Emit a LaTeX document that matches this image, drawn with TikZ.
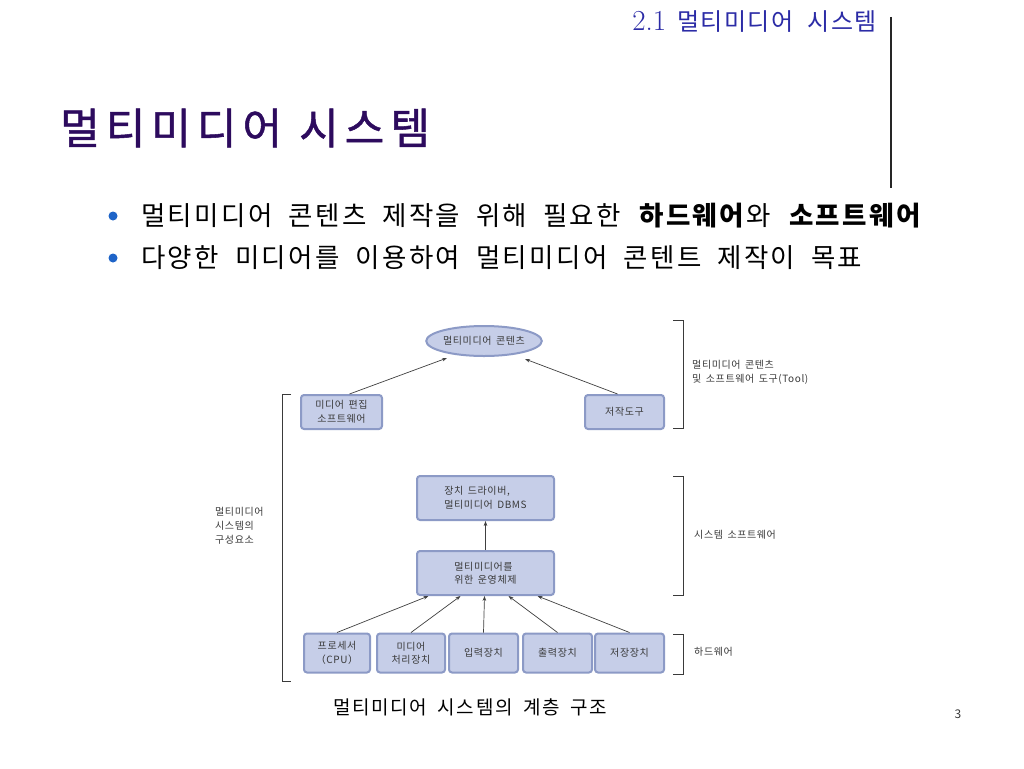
\documentclass[tikz,border=0pt]{standalone}
\usepackage{fontspec}
\usetikzlibrary{arrows.meta,shapes.geometric}
\newfontfamily\kr{Noto Sans CJK KR}
\newfontfamily\krs{Noto Sans CJK KR}[LetterSpace=6]
\newfontfamily\krb{Noto Sans CJK KR}[LetterSpace=9]
\newfontfamily\krt{Noto Sans CJK KR}[LetterSpace=14]
\definecolor{hdrblue}{HTML}{2B2BA6}
\definecolor{ttlpurple}{HTML}{2D0B5E}
\definecolor{bulblue}{HTML}{1E64C8}
\definecolor{boxfill}{HTML}{C6CEE8}
\definecolor{boxline}{HTML}{8C9AC6}
\definecolor{txtgray}{HTML}{3A3A3A}
\definecolor{arrgray}{HTML}{404040}
\begin{document}
\begin{tikzpicture}[x=1pt,y=-1pt,
  box/.style={draw=boxline, fill=boxfill, line width=2pt, rounded corners=3pt, text=txtgray,
    font={\krs\fontsize{10}{13.5}\selectfont\spaceskip=0.45em\relax}, inner sep=0pt, align=center},
  oval/.style={ellipse, draw=boxline, fill=boxfill, line width=2pt, text=txtgray,
    font={\krs\fontsize{10}{13.5}\selectfont\spaceskip=0.45em\relax}, inner sep=0pt},
  lbl/.style={text=txtgray, font={\krs\fontsize{10}{14}\selectfont\spaceskip=0.45em\relax}, inner sep=0pt, align=left},
  conn/.style={draw=arrgray, line width=0.7pt, -{Stealth[length=5pt,width=3.6pt]}},
  brk/.style={draw=txtgray, line width=0.9pt},
  bultxt/.style={anchor=west, inner sep=0pt, text=black, font={\krb\fontsize{26.5}{30}\selectfont\spaceskip=0.6em\relax}}
]
\useasboundingbox (0,0) rectangle (1024,768);
\fill[white] (0,0) rectangle (1024,768);

% header
\node[anchor=east, inner sep=0pt, text=hdrblue] (hdr) at (877,22) {{\fontsize{29}{31}\selectfont 2.1}\hspace{11pt}{\krs\fontsize{24}{26}\selectfont\spaceskip=0.6em\relax 멀티미디어 시스템}};
\draw[line width=1.2pt, black!85] (891,17) -- (891,188);

% title
\node[anchor=west, inner sep=0pt, text=ttlpurple, font={\krt\fontsize{43}{46}\selectfont\addfontfeature{FakeBold=1.2}\spaceskip=0.4em\relax}] (title) at (60,128) {멀티미디어 시스템};

% bullets
\fill[bulblue] (113,216) circle (4.5);
\fill[bulblue] (113,258) circle (4.5);
\node[bultxt] (b1) at (141,216) {멀티미디어 콘텐츠 제작을 위해 필요한 \textbf{하드웨어}와 \textbf{소프트웨어}};
\node[bultxt] (b2) at (141,258) {다양한 미디어를 이용하여 멀티미디어 콘텐트 제작이 목표};

% diagram nodes
\node[oval, minimum width=110pt, minimum height=30pt] (content) at (484,341) {멀티미디어 콘텐츠};
\node[box, minimum width=81pt, minimum height=34pt] (edit) at (341.5,412) {미디어 편집\\소프트웨어};
\node[box, minimum width=79pt, minimum height=34pt] (tool) at (624.5,412) {저작도구};
\node[box, minimum width=137pt, minimum height=44pt, align=left] (dbms) at (485.5,498) {장치 드라이버,\\멀티미디어 DBMS};
\node[box, minimum width=137pt, minimum height=44pt, align=left] (os) at (485.5,573) {멀티미디어를\\위한 운영체제};
\node[box, minimum width=66pt, minimum height=39pt] (cpu) at (337,653) {프로세서\\（CPU）};
\node[box, minimum width=68pt, minimum height=39pt] (mproc) at (411,653) {미디어\\처리장치};
\node[box, minimum width=69pt, minimum height=39pt] (inp) at (483.5,653) {입력장치};
\node[box, minimum width=69pt, minimum height=39pt] (outp) at (557.5,653) {출력장치};
\node[box, minimum width=69pt, minimum height=39pt] (stor) at (629.5,653) {저장장치};

% connectors
\draw[conn] ([xshift=8pt]edit.north) -- ([shift={(-37,17)}]content.center);
\draw[conn] ([xshift=-7pt]tool.north) -- ([shift={(41,18)}]content.center);
\draw[conn] (os.north) -- (dbms.south);
\draw[conn] (cpu.north) -- ([xshift=-57pt]os.south);
\draw[conn] (mproc.north) -- ([xshift=-25pt]os.south);
\draw[conn] (inp.north) -- ([xshift=-1pt]os.south);
\draw[conn] (outp.north) -- ([xshift=23pt]os.south);
\draw[conn] (stor.north) -- ([xshift=52pt]os.south);

% brackets
\draw[brk] (673,320) -- (683,320) -- (683,428) -- (673,428);
\draw[brk] (673,476) -- (683,476) -- (683,595) -- (673,595);
\draw[brk] (673,634) -- (683,634) -- (683,674) -- (673,674);
\draw[brk] (291,394) -- (282,394) -- (282,681) -- (291,681);

% labels
\node[lbl, anchor=west] (l1) at (692,372) {멀티미디어 콘텐츠\\및 소프트웨어 도구(Tool)};
\node[lbl, anchor=west] (l2) at (694,535) {시스템 소프트웨어};
\node[lbl, anchor=west] (l3) at (694,652) {하드웨어};
\node[lbl, anchor=west] (l4) at (215,526) {멀티미디어\\시스템의\\구성요소};

% caption & page number
\node[inner sep=0pt, text=black, font={\krb\fontsize{19}{21}\selectfont\spaceskip=0.55em\relax}] (cap) at (470,707) {멀티미디어 시스템의 계층 구조};
\node[inner sep=0pt, text=txtgray, font={\kr\fontsize{12}{14}\selectfont}] (pg) at (958,714) {3};
\end{tikzpicture}
\end{document}
